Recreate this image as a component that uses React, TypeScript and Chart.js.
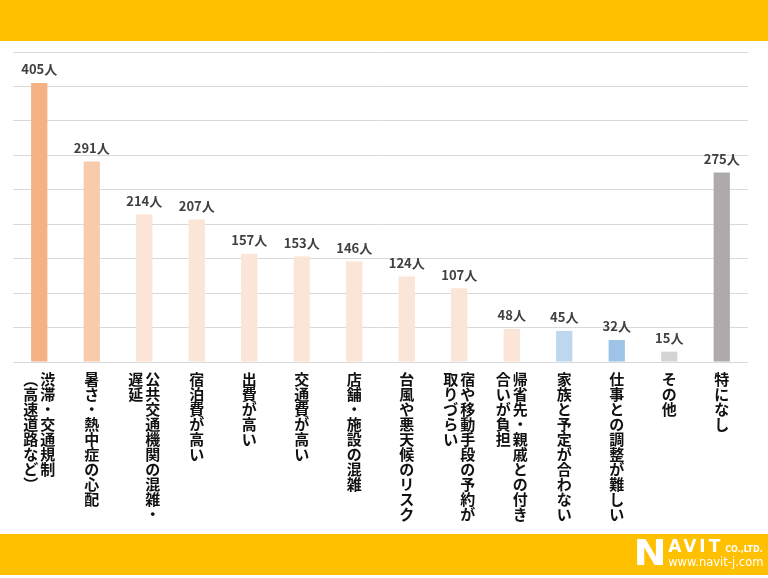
import { useEffect, useRef } from 'react';
import { Chart, registerables } from 'chart.js';

Chart.register(...registerables);

const categories: string[][] = [
  ['渋滞・交通規制', '（高速道路など）'],
  ['暑さ・熱中症の心配'],
  ['公共交通機関の混雑・', '遅延'],
  ['宿泊費が高い'],
  ['出費が高い'],
  ['交通費が高い'],
  ['店舗・施設の混雑'],
  ['台風や悪天候のリスク'],
  ['宿や移動手段の予約が', '取りづらい'],
  ['帰省先・親戚との付き', '合いが負担'],
  ['家族と予定が合わない'],
  ['仕事との調整が難しい'],
  ['その他'],
  ['特になし'],
];

const counts = [405, 291, 214, 207, 157, 153, 146, 124, 107, 48, 45, 32, 15, 275];

const unit = '人';

const barColors = [
  '#F4B183', '#F8CBAD', '#FBE5D6', '#FBE5D6', '#FBE5D6', '#FBE5D6', '#FBE5D6',
  '#FBE5D6', '#FBE5D6', '#FBE5D6', '#BDD7EE', '#9DC3E6', '#D6D3D3', '#AEAAAA',
];

const FONT = '"Noto Sans CJK JP", "Noto Sans", sans-serif';

// vertical forms for brackets in tategaki
const toVertical = (ch: string) => (ch === '（' ? '︵' : ch === '）' ? '︶' : ch);

const labelPlugin = {
  id: 'labels',
  afterDatasetsDraw(chart: Chart) {
    const { ctx, scales } = chart;
    const meta = chart.getDatasetMeta(0);
    const base = scales.y.getPixelForValue(0);
    ctx.save();

    // values above bars
    ctx.font = `bold 13px ${FONT}`;
    ctx.fillStyle = '#404040';
    ctx.textAlign = 'center';
    ctx.textBaseline = 'bottom';
    meta.data.forEach((bar: any, i: number) => {
      ctx.fillText(`${counts[i]}${unit}`, bar.x, bar.y - 7);
    });

    // category names, written top to bottom, columns right to left
    ctx.font = `bold 15px ${FONT}`;
    ctx.fillStyle = '#111111';
    ctx.textBaseline = 'top';
    categories.forEach((lines, i) => {
      const cx = scales.x.getPixelForValue(i);
      const colGap = 17;
      lines.forEach((line, col) => {
        const x = cx + ((lines.length - 1) / 2 - col) * colGap;
        Array.from(line).forEach((ch, k) => {
          ctx.fillText(toVertical(ch), x, base + 10 + k * 15);
        });
      });
    });
    ctx.restore();
  },
};

export default function App() {
  const canvas = useRef<HTMLCanvasElement | null>(null);
  const chartRef = useRef<Chart | null>(null);

  useEffect(() => {
    const node = canvas.current;
    if (!node) {
      return;
    }
    if (chartRef.current) {
      chartRef.current.destroy();
    }

    chartRef.current = new Chart(node, {
      type: 'bar',
      data: {
        labels: categories.map((c) => c.join('')),
        datasets: [
          {
            data: counts,
            backgroundColor: barColors,
            barPercentage: 0.31,
            categoryPercentage: 1,
          },
        ],
      },
      options: {
        responsive: false,
        animation: false,
        layout: { padding: { left: 13, right: 20, top: 52, bottom: 216 } },
        plugins: {
          legend: { display: false },
          tooltip: { enabled: false },
        },
        scales: {
          x: { display: false },
          y: {
            min: 0,
            max: 450,
            ticks: { display: false, stepSize: 50 },
            border: { display: false },
            grid: { color: '#D9D9D9', lineWidth: 1, drawTicks: false },
          },
        },
      },
      plugins: [labelPlugin],
    });

    return () => {
      chartRef.current?.destroy();
      chartRef.current = null;
    };
  }, []);

  return (
    <div
      style={{
        position: 'fixed',
        top: 0,
        left: 0,
        width: 768,
        height: 578,
        background: '#ffffff',
        overflow: 'hidden',
        fontFamily: FONT,
      }}
    >
      <div style={{ position: 'absolute', left: 0, top: 0, width: 768, height: 41, background: '#FFC000' }} />
      <div style={{ position: 'absolute', left: 0, top: 534, width: 768, height: 41, background: '#FFC000' }} />
      <canvas
        ref={canvas}
        width={768}
        height={578}
        style={{ position: 'absolute', left: 0, top: 0 }}
        role="img"
        aria-label="Bar chart of concerns"
      />
      <div
        style={{
          position: 'absolute',
          left: 635,
          top: 536,
          color: '#ffffff',
          fontFamily: '"DejaVu Sans", sans-serif',
          fontWeight: 'bold',
          lineHeight: 1,
        }}
      >
        <div style={{ display: 'flex', alignItems: 'flex-end' }}>
          <span style={{ fontSize: 36, lineHeight: '34px', display: 'inline-block', transform: 'scaleX(1.1)' }}>N</span>
          <div style={{ display: 'flex', flexDirection: 'column', marginLeft: 3 }}>
            <div style={{ display: 'flex', alignItems: 'flex-end' }}>
              <span style={{ fontSize: 17, letterSpacing: 3 }}>AVIT</span>
              <span style={{ fontSize: 8, marginLeft: 2, marginBottom: 1 }}>CO.,LTD.</span>
            </div>
            <span style={{ fontSize: 11.5, fontWeight: 'normal', marginTop: 2, marginBottom: 2 }}>www.navit-j.com</span>
          </div>
        </div>
      </div>
    </div>
  );
}
